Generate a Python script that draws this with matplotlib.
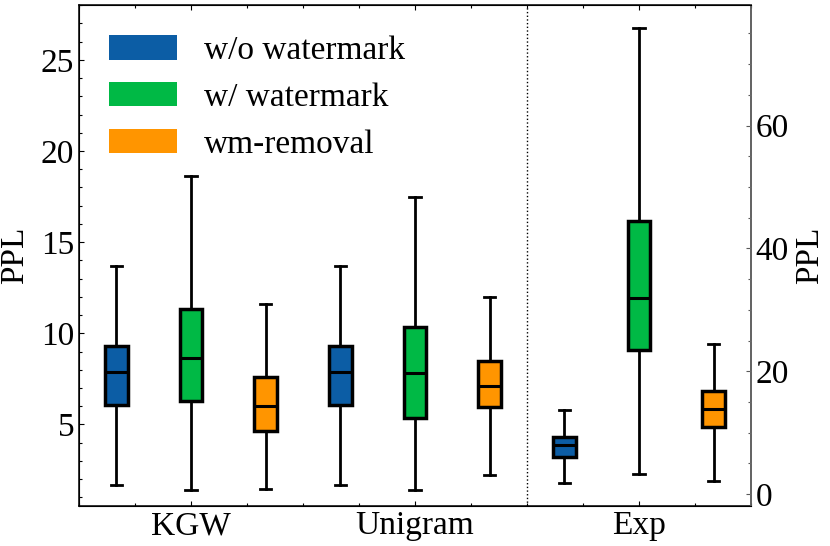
import matplotlib
matplotlib.use("Agg")
import matplotlib.pyplot as plt
from matplotlib.patches import Patch
from matplotlib.ticker import AutoMinorLocator, MultipleLocator

plt.rcParams["font.family"] = ["Liberation Serif", "DejaVu Serif"]
plt.rcParams["font.size"] = 24

groups = ["KGW", "Unigram", "Exp"]
series = ["w/o watermark", "w/ watermark", "wm-removal"]
colors = ["#0C5DA5", "#00B945", "#FF9500"]

# five-number summaries, one list per group: [w/o, w/, wm-removal]
whislo = {"KGW": [1.69, 1.38, 1.44], "Unigram": [1.69, 1.38, 2.23], "Exp": [1.75, 3.23, 2.09]}
q1 = {"KGW": [6.09, 6.29, 4.66], "Unigram": [6.09, 5.35, 5.93], "Exp": [6.10, 23.4, 10.9]}
med = {"KGW": [7.85, 8.67, 6.00], "Unigram": [7.85, 7.83, 7.10], "Exp": [7.95, 31.9, 13.9]}
q3 = {"KGW": [9.29, 11.31, 7.58], "Unigram": [9.29, 10.34, 8.50], "Exp": [9.37, 44.5, 16.74]}
whishi = {"KGW": [13.71, 18.64, 11.62], "Unigram": [13.71, 17.46, 11.99], "Exp": [13.75, 75.9, 24.5]}


def draw_group(axis, gi, name):
    stats = []
    for s in range(len(series)):
        stats.append(dict(whislo=whislo[name][s], q1=q1[name][s], med=med[name][s],
                          q3=q3[name][s], whishi=whishi[name][s]))
    pos = [3 * gi + s + 1 for s in range(len(series))]
    bp = axis.bxp(stats, positions=pos, widths=0.3, patch_artist=True, showfliers=False,
                  boxprops=dict(edgecolor="black", linewidth=2.5),
                  medianprops=dict(color="black", linewidth=2.2),
                  whiskerprops=dict(color="black", linewidth=2),
                  capprops=dict(color="black", linewidth=2),
                  manage_ticks=False)
    for patch, c in zip(bp["boxes"], colors):
        patch.set_facecolor(c)


fig, ax = plt.subplots(figsize=(8.3, 5.46), dpi=100)
fig.subplots_adjust(left=0.0952, right=0.9048, bottom=0.0738, top=0.9905)
ax2 = ax.twinx()

draw_group(ax, 0, "KGW")
draw_group(ax, 1, "Unigram")
draw_group(ax2, 2, "Exp")

ax.axvline(6.5, color="black", linestyle=":", linewidth=1)

ax.set_xlim(0.5, 9.5)
ax.set_ylim(0.54, 28.0)
ax2.set_ylim(-1.87, 79.6)

ax.set_xticks([2, 5, 8], groups)
ax.xaxis.set_minor_locator(AutoMinorLocator(4))
ax.yaxis.set_major_locator(MultipleLocator(5))
ax.yaxis.set_minor_locator(AutoMinorLocator(5))
ax2.yaxis.set_major_locator(MultipleLocator(20))
ax2.yaxis.set_minor_locator(AutoMinorLocator(4))

for sp in ax.spines.values():
    sp.set_linewidth(1.1)
ax.tick_params(which="both", direction="in", top=True, bottom=True, left=True, right=False)
ax.tick_params(which="major", length=3.5, width=0.8)
ax.tick_params(which="minor", length=2, width=0.8)
ax2.tick_params(which="both", direction="in", right=True, left=False, colors="0.35", labelcolor="black")
ax2.tick_params(which="major", length=3.5, width=0.8)
ax2.tick_params(which="minor", length=2, width=0.8)
ax2.spines["right"].set_color("0.45")
ax2.spines["right"].set_linewidth(1.1)

ax.set_ylabel("PPL", labelpad=8)
ax2.set_ylabel("PPL", labelpad=4)

handles = [Patch(facecolor=c, edgecolor="none", label=s) for c, s in zip(colors, series)]
ax.legend(handles=handles, loc="upper left", frameon=False, handlelength=2.04,
          handleheight=0.75, handletextpad=0.81, labelspacing=0.48)

plt.savefig("out.png", dpi=100)
